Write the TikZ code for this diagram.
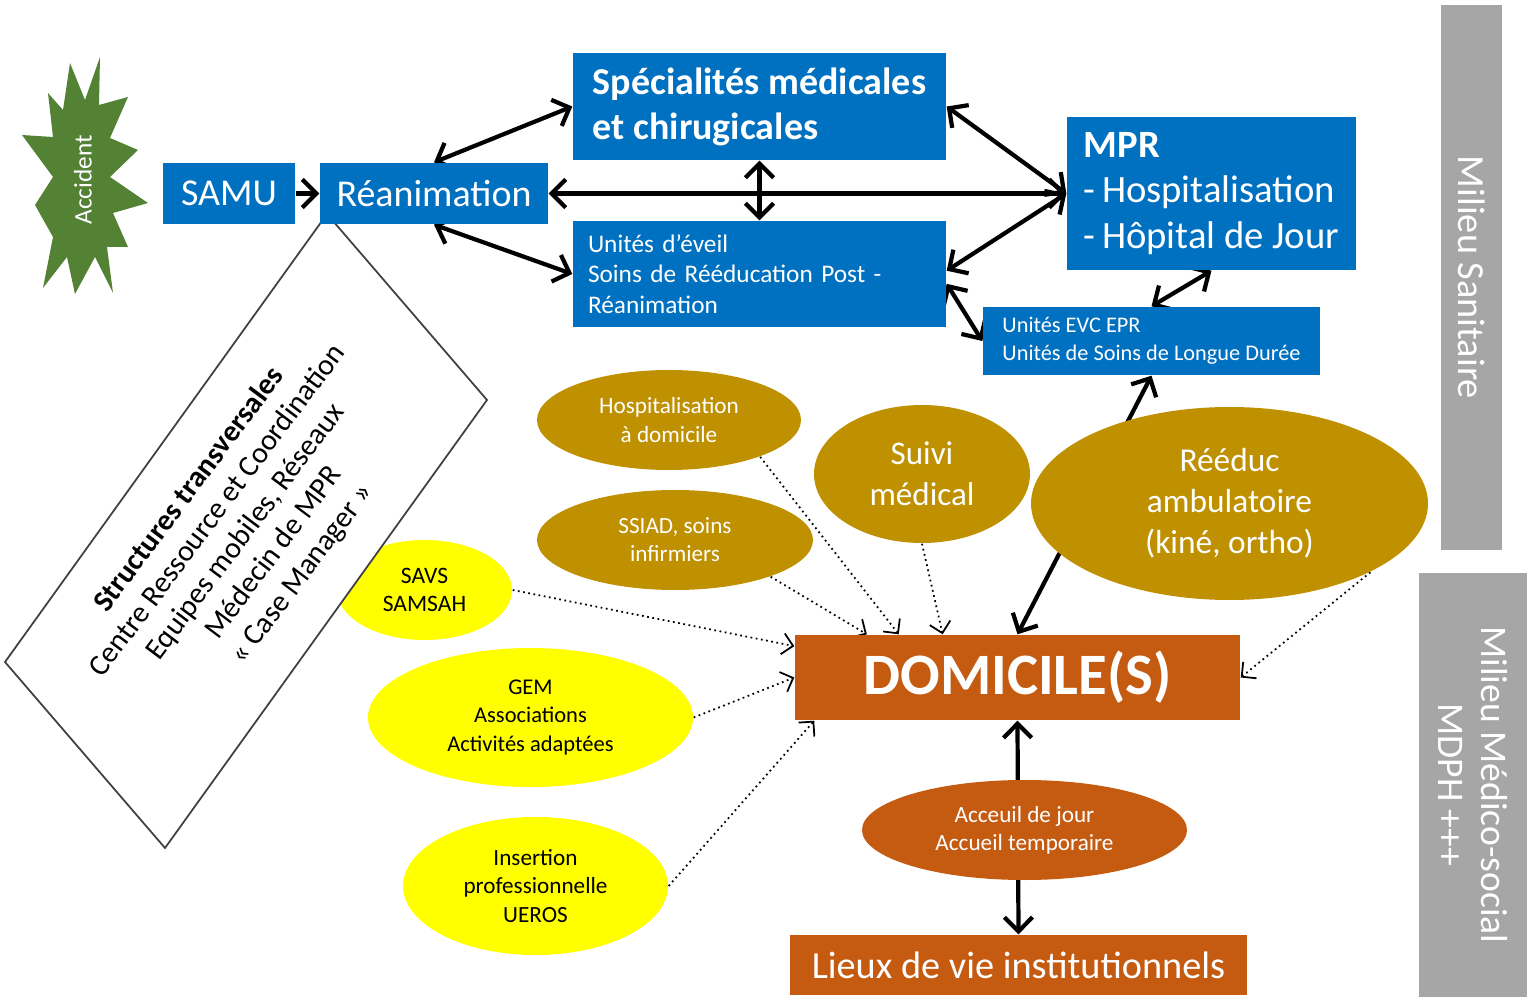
\documentclass[tikz,border=0pt]{standalone}
\usepackage{fontspec}
\setmainfont{Carlito}
\usetikzlibrary{arrows.meta,shapes.geometric,backgrounds}
\definecolor{bleu}{HTML}{0070C0}
\definecolor{ocre}{HTML}{BF9000}
\definecolor{jaune}{HTML}{FFFF00}
\definecolor{brique}{HTML}{C55A11}
\definecolor{vert}{HTML}{548235}
\definecolor{gris}{HTML}{A6A6A6}
\begin{document}
\begin{tikzpicture}[
  >={Straight Barb[length=4pt,width=8pt]},
  bloc/.style={fill=bleu, text=white, inner sep=0pt},
  ovale/.style={ellipse, inner sep=0pt, align=center},
  fleche/.style={<->, line width=1.2pt},
  pointille/.style={-{Straight Barb[length=3pt,width=6pt]}, densely dotted, line width=0.5pt}]
\useasboundingbox (0,0) rectangle (15.29,-10.02);
\fill[vert] (0.70,-0.63) -- (0.85,-1.00) -- (1.00,-0.57) -- (0.99,-1.05) -- (1.28,-0.97)
  -- (1.10,-1.38) -- (1.38,-1.50) -- (1.10,-1.77) -- (1.48,-2.03) -- (1.13,-2.13)
  -- (1.28,-2.47) -- (1.07,-2.47) -- (1.13,-2.93) -- (0.95,-2.57) -- (0.75,-2.94)
  -- (0.67,-2.57) -- (0.43,-2.88) -- (0.53,-2.37) -- (0.35,-2.05) -- (0.53,-1.77)
  -- (0.22,-1.35) -- (0.53,-1.37) -- (0.48,-0.93) -- (0.63,-1.10) -- cycle;
\node[text=white, rotate=90, font=\fontsize{7.2}{8}\selectfont] (accident) at (0.83,-1.80) {Accident};
\node[ovale, fill=jaune, minimum width=1.75cm, minimum height=1.00cm, font=\fontsize{6.7}{8}\selectfont] (savs) at (4.245,-5.90) {SAVS\\SAMSAH};
\filldraw[fill=white, draw=black!75, line width=0.5pt] (3.27,-2.14) -- (4.87,-4.00) -- (1.65,-8.48) -- (0.05,-6.62) -- cycle;
\node[rotate=53.2, align=center, font=\fontsize{8.5}{10}\selectfont] (transv) at (2.46,-5.32) {\textbf{Structures transversales}\\Centre Ressource et Coordination\\Equipes mobiles, Réseaux\\Médecin de MPR\\«~Case Manager~»};
\node[bloc, minimum width=1.32cm, minimum height=0.61cm, font=\fontsize{10.8}{13}\selectfont] (samu) at (2.29,-1.935) {SAMU};
\node[bloc, minimum width=2.28cm, minimum height=0.61cm, font=\fontsize{10.8}{13}\selectfont] (reanim) at (4.34,-1.935) {Réanimation};
\node[bloc, minimum width=3.73cm, minimum height=1.07cm, align=left, font=\bfseries\fontsize{10.8}{12.8}\selectfont] (specia) at (7.595,-1.065) {Spécialités médicales\\et chirugicales};
\node[bloc, text width=3.43cm, inner xsep=0.15cm, minimum height=1.06cm, align=left, font=\fontsize{7.2}{8.6}\selectfont] (eveil) at (7.595,-2.74) {Unités d’éveil\\Soins de Rééducation Post -\\Réanimation};
\node[bloc, minimum width=2.89cm, minimum height=1.53cm, align=left, font=\fontsize{11}{13}\selectfont] (mpr) at (12.115,-1.935) {\textbf{MPR}\\-\,Hospitalisation\\-\,Hôpital de Jour};
\node[bloc, minimum width=3.37cm, minimum height=0.68cm, align=left, font=\fontsize{6.35}{8}\selectfont] (evc) at (11.515,-3.41) {Unités EVC EPR\\Unités de Soins de Longue Durée};
\node[ovale, fill=ocre, text=white, minimum width=2.64cm, minimum height=1.00cm, font=\fontsize{6.6}{8}\selectfont] (had) at (6.69,-4.20) {Hospitalisation\\à domicile};
\node[ovale, fill=ocre, text=white, minimum width=2.76cm, minimum height=1.00cm, font=\fontsize{6.6}{8}\selectfont] (ssiad) at (6.75,-5.40) {SSIAD, soins\\infirmiers};
\node[ovale, fill=ocre, text=white, minimum width=2.16cm, minimum height=1.38cm, font=\fontsize{9.4}{11.7}\selectfont] (suivi) at (9.22,-4.74) {Suivi\\médical};
\node[ovale, fill=ocre, text=white, minimum width=3.97cm, minimum height=1.93cm, font=\fontsize{9.5}{11.7}\selectfont] (reeduc) at (12.295,-5.035) {Rééduc\\ambulatoire\\(kiné, ortho)};
\node[ovale, fill=jaune, minimum width=3.25cm, minimum height=1.39cm, font=\fontsize{6.4}{8}\selectfont] (gem) at (5.305,-7.175) {GEM\\Associations\\Activités adaptées};
\node[ovale, fill=jaune, minimum width=2.65cm, minimum height=1.38cm, font=\fontsize{6.6}{8}\selectfont] (insertion) at (5.355,-8.86) {Insertion\\professionnelle\\UEROS};
\node[fill=brique, text=white, inner sep=0pt, minimum width=4.45cm, minimum height=0.85cm, font=\bfseries\fontsize{16.7}{20}\selectfont] (domicile) at (10.175,-6.775) {DOMICILE(S)};
\node[ovale, fill=brique, text=white, minimum width=3.25cm, minimum height=1.00cm, font=\fontsize{6.6}{8}\selectfont] (accueil) at (10.245,-8.30) {Acceuil de jour\\Accueil temporaire};
\node[fill=brique, text=white, inner sep=0pt, minimum width=4.57cm, minimum height=0.60cm, font=\fontsize{10.9}{13}\selectfont] (lieux) at (10.185,-9.65) {Lieux de vie institutionnels};
\node[fill=gris, text=white, inner sep=0pt, rotate=-90, minimum width=5.45cm, minimum height=0.61cm, font=\fontsize{10.9}{13}\selectfont] (sanitaire) at (14.715,-2.775) {Milieu Sanitaire};
\node[fill=gris, text=white, inner sep=0pt, rotate=-90, align=center, minimum width=4.24cm, minimum height=1.08cm, font=\fontsize{10.7}{12.2}\selectfont] (medico) at (14.73,-7.85) {Milieu Médico-social\\MDPH +++};
\begin{scope}[on background layer]
\draw[->, line width=1.2pt] (samu.east) -- (reanim.west);
\draw[fleche] (reanim.north) -- (specia.west);
\draw[fleche] (reanim.south) -- (eveil.west);
\draw[fleche] (reanim.east) -- (mpr.west);
\draw[fleche] (specia.south) -- (eveil.north);
\draw[fleche] (specia.east) -- (mpr.west);
\draw[fleche] (eveil.1) -- (mpr.west);
\draw[fleche] (eveil.-3) -- (evc.west);
\draw[fleche] (mpr.south) -- (evc.north);
\draw[fleche] (domicile.north) -- (evc.south);
\draw[fleche] (domicile.south) -- (lieux.north);
\draw[pointille] (had.-22) -- (domicile.160.6);
\draw[pointille] (ssiad.-21) -- (domicile.164.5);
\draw[pointille] (suivi.south) -- (domicile.150);
\draw[pointille] (savs.east) -- (domicile.172);
\draw[pointille] (gem.east) -- (domicile.west);
\draw[pointille] (insertion.east) -- (domicile.192.6);
\draw[pointille] (reeduc.-26) -- (domicile.east);
\end{scope}
\end{tikzpicture}
\end{document}
